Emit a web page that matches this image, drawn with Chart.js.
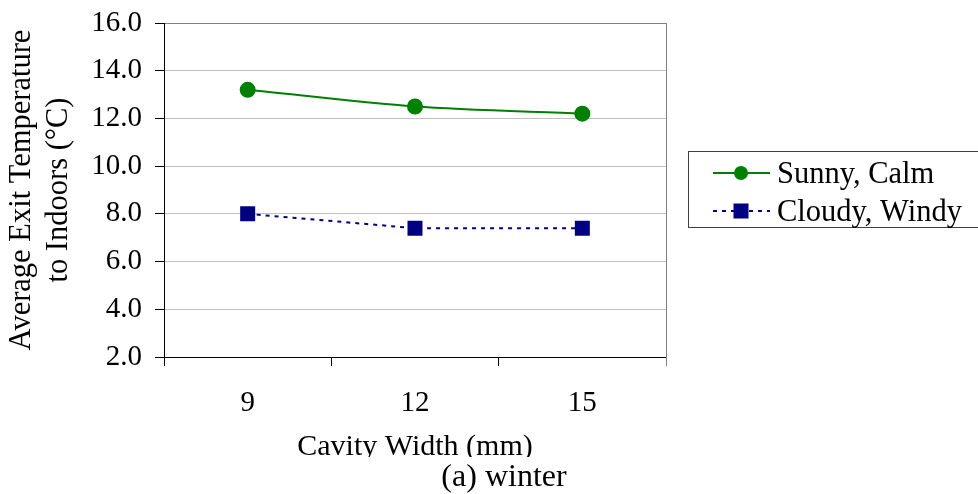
<!DOCTYPE html>
<html>
<head>
<meta charset="utf-8">
<script src="https://cdn.jsdelivr.net/npm/chart.js@4/dist/chart.umd.min.js"></script>
<style>
  body { margin: 0; background: #fff; font-family: 'Liberation Serif', 'Times New Roman', Times, serif; }
  canvas { display: block; }
  .preload { position: absolute; left: -9999px; top: 0; font-size: 29px; }
</style>
</head>
<body>
<div class="preload">Average 0123456789 (°C)</div>
<canvas id="chart" width="978" height="494"></canvas>
<script>
let widths = ['9', '12', '15'];
let sunnyCalm = [13.2, 12.5, 12.2];
let cloudyWindy = [8.0, 7.4, 7.4];
let yTickValues = [2, 4, 6, 8, 10, 12, 14, 16];
let seriesNames = ['Sunny, Calm', 'Cloudy, Windy'];

let serif = "'Liberation Serif', 'Times New Roman', Times, serif";

// right border, legend box and the "(a) winter" caption
let extras = {
  id: 'extras',
  afterDraw(chart) {
    let ctx = chart.ctx;
    let area = chart.chartArea;
    ctx.save();
    ctx.strokeStyle = '#808080';
    ctx.lineWidth = 1;
    ctx.beginPath();
    ctx.moveTo(Math.round(area.right) + 0.5, area.top);
    ctx.lineTo(Math.round(area.right) + 0.5, area.bottom + 9);
    ctx.stroke();

    // legend
    ctx.strokeStyle = '#404040';
    ctx.strokeRect(688.5, 151.5, 300, 76);
    chart.data.datasets.forEach(function(ds, i) {
      let y = 173 + i * 38;
      ctx.strokeStyle = ds.borderColor;
      ctx.lineWidth = ds.borderWidth;
      ctx.setLineDash(ds.borderDash || []);
      ctx.beginPath();
      ctx.moveTo(713, y);
      ctx.lineTo(770, y);
      ctx.stroke();
      ctx.setLineDash([]);
      ctx.fillStyle = ds.pointBackgroundColor;
      if (ds.pointStyle == 'rect') {
        ctx.fillRect(741 - 7.5, y - 7.5, 15, 15);
      } else {
        ctx.beginPath();
        ctx.arc(741, y, 7, 0, Math.PI * 2);
        ctx.fill();
      }
      ctx.fillStyle = '#000';
      ctx.font = '30.5px ' + serif;
      ctx.textAlign = 'left';
      ctx.textBaseline = 'middle';
      ctx.fillText(ds.label, 777, y + 2);
    });

    // caption box overlaps the bottom of the axis title
    ctx.fillStyle = '#fff';
    ctx.fillRect(285, 457, 290, 37);
    ctx.fillStyle = '#000';
    ctx.font = '32px ' + serif;
    ctx.textAlign = 'center';
    ctx.textBaseline = 'alphabetic';
    ctx.fillText('(a) winter', 504, 486);
    ctx.restore();
  }
};

function drawChart() {
  new Chart(document.getElementById('chart'), {
    type: 'line',
    data: {
      labels: widths,
      datasets: [{
        label: seriesNames[0],
        data: sunnyCalm,
        borderColor: '#008000',
        backgroundColor: '#008000',
        pointBackgroundColor: '#008000',
        pointBorderColor: '#008000',
        borderWidth: 2,
        pointStyle: 'circle',
        pointRadius: 7,
        tension: 0.3
      }, {
        label: seriesNames[1],
        data: cloudyWindy,
        borderColor: '#000080',
        backgroundColor: '#000080',
        pointBackgroundColor: '#000080',
        pointBorderColor: '#000080',
        borderWidth: 2,
        borderDash: [4, 5],
        pointStyle: 'rect',
        pointRadius: 10.6,
        pointBorderWidth: 0,
        tension: 0
      }]
    },
    options: {
      responsive: false,
      animation: false,
      layout: { padding: { top: 23, right: 312, left: 0, bottom: 0 } },
      plugins: {
        legend: { display: false },
        tooltip: { enabled: false }
      },
      scales: {
        x: {
          offset: true,
          grid: {
            offset: true,
            drawOnChartArea: false,
            tickLength: 9,
            tickColor: '#000'
          },
          border: { color: '#000', width: 1 },
          ticks: {
            color: '#000',
            padding: 20,
            font: { family: serif, size: 29 },
            maxRotation: 0
          },
          title: {
            display: true,
            text: 'Cavity Width (mm)',
            color: '#000',
            font: { family: serif, size: 30 },
            padding: { top: 0, bottom: 29 }
          },
          afterFit(scale) { scale.height = 137; }
        },
        y: {
          min: 2,
          max: 16,
          afterBuildTicks(scale) {
            scale.ticks = yTickValues.map(v => ({ value: v }));
          },
          grid: {
            color: ctx => ctx.tick.value == 16 ? '#808080' : (ctx.tick.value == 2 ? '#000' : '#c0c0c0'),
            tickColor: '#000',
            tickLength: 9
          },
          border: { color: '#000', width: 1 },
          ticks: {
            color: '#000',
            padding: 13,
            font: { family: serif, size: 29 },
            callback: v => Number(v).toFixed(1)
          },
          title: {
            display: true,
            text: ['Average Exit Temperature', 'to Indoors (\u00B0C)'],
            color: '#000',
            font: { family: serif, size: 30.5, lineHeight: 1.22 },
            padding: { top: 3, bottom: 0 }
          },
          afterFit(scale) {
            scale.width = 164;
            scale.paddingTop = 0;
            scale.paddingBottom = 0;
          }
        }
      }
    },
    plugins: [extras]
  });
}

if (document.fonts && document.fonts.load) {
  document.fonts.load("29px 'Liberation Serif'").then(drawChart, drawChart);
} else {
  drawChart();
}
</script>
</body>
</html>
